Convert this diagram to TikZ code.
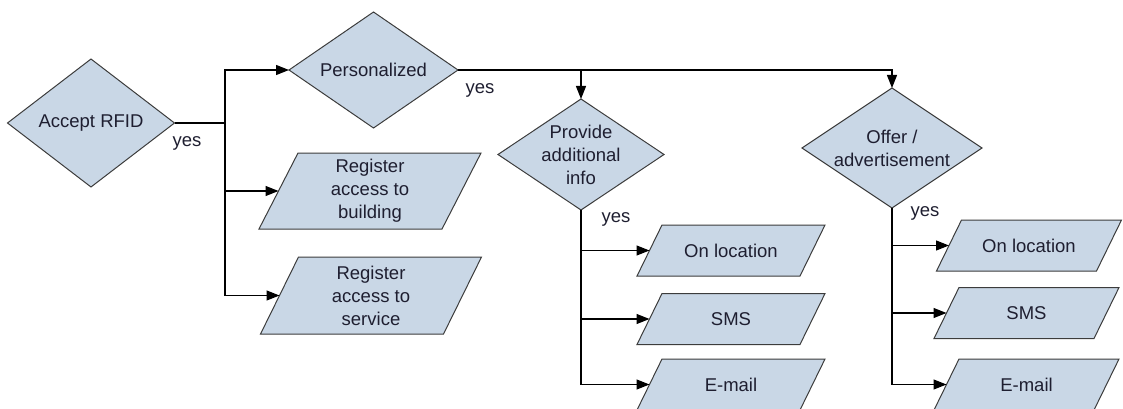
\documentclass[tikz,border=0pt]{standalone}
\usepackage{fontspec}
\setmainfont{Liberation Sans}
\usetikzlibrary{arrows.meta,backgrounds}
\definecolor{shapefill}{HTML}{C9D7E6}
\definecolor{shapeline}{HTML}{3C3C3C}
\definecolor{txt}{HTML}{1E1E30}
\tikzset{
  lbl/.style={inner sep=0pt, outer sep=0pt, align=center, text=txt,
    font=\fontsize{18.5}{23}\selectfont},
  shp/.style={fill=shapefill, draw=shapeline, line width=1pt, line join=miter},
  conn/.style={line width=1.2pt, draw=black},
  arr/.style={conn, -{Triangle[length=13pt,width=10pt]}},
  yeslbl/.style={inner sep=0pt, text=txt, font=\fontsize{18.5}{23}\selectfont}
}
\newcommand\diabox[5]{%
  \node[lbl, minimum width=#3, minimum height=#4] (#1) at (#2) {#5};
  \begin{pgfonlayer}{background}
    \filldraw[shp] (#1.north) -- (#1.east) -- (#1.south) -- (#1.west) -- cycle;
  \end{pgfonlayer}}
\newcommand\parabox[6]{%
  \node[lbl, minimum width=#3, minimum height=#4] (#1) at (#2) {#6};
  \begin{pgfonlayer}{background}
    \filldraw[shp] ([xshift=-#5/2]#1.south west) -- ([xshift=-#5/2]#1.south east)
      -- ([xshift=#5/2]#1.north east) -- ([xshift=#5/2]#1.north west) -- cycle;
  \end{pgfonlayer}}
\begin{document}
\begin{tikzpicture}[x=1pt,y=-1pt]
\useasboundingbox (0,0) rectangle (1123,409);
\clip (0,0) rectangle (1123,409);
% decisions
\diabox{A}{91,123}{167}{128}{Accept RFID}
\diabox{P}{373.5,70}{169}{116}{Personalized}
\diabox{PA}{581,154.5}{166}{111}{Provide\\additional\\info}
\diabox{O}{892,148}{180}{120}{Offer /\\advertisement}
% outputs
\parabox{RB}{370,191}{183}{76}{39}{Register\\access to\\building}
\parabox{RS}{371,295.5}{183}{77}{38}{Register\\access to\\service}
\parabox{L1}{731,250.5}{163}{51}{25}{On location}
\parabox{L2}{731,319}{163}{51}{25}{SMS}
\parabox{L3}{731,384.5}{163}{51}{25}{E-mail}
\parabox{R1}{1029,245.5}{160}{51}{25}{On location}
\parabox{R2}{1026.5,313}{160}{51}{25}{SMS}
\parabox{R3}{1026.5,384.5}{160}{51}{25}{E-mail}
% connectors
\coordinate (j1) at (225,123);
\draw[conn] (A.east) -- (j1);
\draw[arr] (j1) |- (P.west);
\draw[arr] (j1) |- (RB.west);
\draw[arr] (j1) |- (RS.west);
\draw[arr] (P.east) -| (PA.north);
\draw[arr] (P.east) -| (O.north);
\draw[arr] (PA.south) |- (L1.west);
\draw[arr] (PA.south) |- (L2.west);
\draw[arr] (PA.south) |- (L3.west);
\draw[arr] (O.south) |- (R1.west);
\draw[arr] (O.south) |- (R2.west);
\draw[arr] (O.south) |- (R3.west);
% labels
\node[yeslbl] (y1) at (187,143) {yes};
\node[yeslbl] (y2) at (480,90) {yes};
\node[yeslbl] (y3) at (616,219) {yes};
\node[yeslbl] (y4) at (925,213) {yes};
\end{tikzpicture}
\end{document}
